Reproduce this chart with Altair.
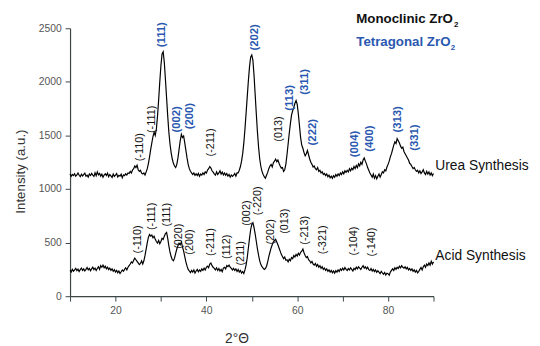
import altair as alt
import pandas as pd

# 2-theta grid: start 10, step 0.25 (321 points, 10..90)
two_theta_start = 10.0
two_theta_step = 0.25

urea = [
    1140, 1118, 1135, 1125, 1142, 1120, 1131, 1150, 1128, 1115, 1138, 1122,
    1135, 1148, 1120, 1130, 1112, 1140, 1126, 1145, 1130, 1118, 1152, 1125,
    1160, 1132, 1145, 1120, 1138, 1110, 1130, 1142, 1125, 1148, 1115, 1135,
    1122, 1108, 1140, 1118, 1130, 1145, 1112, 1128, 1120, 1138, 1105, 1132,
    1125, 1142, 1130, 1150, 1145, 1165, 1150, 1178, 1190, 1215, 1200, 1222,
    1180, 1165, 1175, 1148, 1140, 1150, 1130, 1160, 1190, 1240, 1300, 1370,
    1430, 1490, 1530, 1500, 1560, 1680, 1830, 2000, 2150, 2260, 2280, 2180,
    2020, 1850, 1680, 1530, 1420, 1340, 1280, 1240, 1215, 1200, 1230, 1290,
    1370, 1450, 1510, 1480, 1495, 1430, 1360, 1290, 1230, 1190, 1165, 1150,
    1135, 1150, 1128, 1142, 1125, 1145, 1118, 1140, 1130, 1150, 1135, 1160,
    1148, 1175, 1190, 1210, 1195, 1170, 1158, 1142, 1130, 1160, 1135, 1150,
    1170, 1140, 1158, 1132, 1150, 1128, 1145, 1120, 1135, 1110, 1130, 1118,
    1130, 1145, 1120, 1150, 1150, 1175, 1210, 1260, 1330, 1430, 1560, 1710,
    1860, 2010, 2140, 2230, 2250, 2200, 2060, 1880, 1700, 1530, 1390, 1280,
    1210, 1165, 1135, 1115, 1100, 1128, 1155, 1190, 1215, 1230, 1205, 1245,
    1260, 1280, 1255, 1270, 1240, 1215, 1195, 1200, 1165, 1180, 1230, 1320,
    1420, 1520, 1610, 1690, 1730, 1760, 1800, 1825, 1790, 1700, 1590, 1480,
    1410, 1380, 1340, 1310, 1330, 1360, 1320, 1280, 1250, 1230, 1205, 1215,
    1190, 1180, 1200, 1165, 1175, 1150, 1160, 1135, 1145, 1125, 1140, 1115,
    1130, 1105, 1120, 1100, 1125, 1110, 1135, 1118, 1140, 1125, 1150, 1135,
    1160, 1142, 1170, 1155, 1175, 1160, 1190, 1170, 1195, 1180, 1210, 1190,
    1220, 1200, 1235, 1215, 1250, 1230, 1270, 1290, 1260, 1235, 1200, 1175,
    1150, 1130, 1110, 1140, 1100, 1125, 1095, 1120, 1140, 1110, 1135, 1160,
    1150, 1180, 1170, 1205, 1230, 1260, 1300, 1330, 1370, 1410, 1440, 1425,
    1470, 1450, 1430, 1400, 1380, 1390, 1350, 1330, 1310, 1290, 1270, 1240,
    1230, 1210, 1190, 1200, 1180, 1165, 1175, 1150, 1170, 1145, 1160, 1180,
    1150, 1135, 1165, 1140, 1160, 1130, 1150, 1125, 1145,
]

acid = [
    240, 225, 250, 232, 245, 260, 238, 252, 230, 248, 262, 240,
    255, 235, 250, 268, 245, 260, 238, 255, 270, 248, 262, 240,
    258, 275, 250, 285, 270, 290, 265, 280, 255, 270, 248, 262,
    240, 255, 232, 248, 225, 240, 218, 235, 212, 228, 245, 232,
    250, 265, 245, 270, 285, 300, 320, 310, 335, 355, 340, 325,
    310, 295, 305, 330, 300, 330, 380, 440, 500, 550, 575, 560,
    570, 545, 560, 530, 510, 495, 520, 490, 510, 540, 530, 560,
    585, 595, 540, 470, 410, 370, 340, 330, 355, 400, 440, 470,
    495, 480, 505, 460, 420, 370, 320, 280, 250, 235, 220, 240,
    225, 245, 215, 235, 250, 228, 245, 232, 255, 240, 262, 245,
    270, 280, 265, 300, 310, 285, 270, 260, 245, 265, 240, 258,
    235, 250, 228, 262, 270, 255, 285, 275, 290, 270, 260, 245,
    260, 240, 255, 230, 248, 225, 240, 215, 230, 212, 245, 290,
    360, 450, 540, 620, 670, 685, 640, 580, 510, 440, 380, 330,
    295, 275, 262, 250, 258, 280, 320, 370, 410, 450, 480, 505,
    520, 530, 505, 480, 450, 420, 390, 370, 350, 365, 335, 340,
    320, 345, 330, 360, 350, 380, 365, 390, 375, 400, 385, 410,
    420, 440, 405, 380, 360, 370, 340, 330, 310, 325, 300, 290,
    305, 280, 295, 270, 285, 260, 275, 250, 262, 240, 255, 232,
    245, 225, 240, 218, 235, 215, 238, 225, 245, 230, 255, 240,
    262, 245, 268, 250, 240, 258, 245, 265, 250, 235, 260, 248,
    270, 255, 275, 262, 250, 270, 285, 262, 275, 255, 270, 248,
    240, 258, 235, 250, 230, 245, 222, 238, 225, 210, 232, 218,
    205, 222, 198, 215, 210, 195, 225, 240, 255, 240, 265, 250,
    270, 258, 280, 265, 285, 270, 262, 275, 255, 268, 245, 258,
    240, 255, 232, 245, 225, 240, 218, 232, 250, 268, 245, 275,
    290, 270, 300, 285, 310, 290, 325, 300, 320,
]

# peak labels (M = monoclinic, black; T = tetragonal, blue)
urea_labels = ["(-110)", "(-111)", "(111)", "(002)", "(200)", "(-211)", "(202)", "(013)",
               "(113)", "(311)", "(222)", "(004)", "(400)", "(313)", "(331)"]
urea_label_x = [25.4, 28.0, 30.2, 33.5, 36.5, 41.1, 50.7, 55.9,
                58.5, 61.8, 63.5, 72.8, 76.1, 82.2, 85.9]
urea_label_y = [1390, 1650, 2440, 1650, 1680, 1435, 2415, 1560,
                1850, 2000, 1530, 1420, 1470, 1650, 1480]
urea_label_phase = ["M", "M", "T", "T", "T", "M", "T", "M",
                    "T", "T", "T", "T", "T", "T", "T"]

acid_labels = ["(-110)", "(-111)", "(111)", "(020)", "(200)", "(-211)", "(112)", "(211)",
               "(002)", "(-220)", "(202)", "(013)", "(-213)", "(-321)", "(-104)", "(-140)"]
acid_label_x = [25.0, 28.0, 31.3, 33.9, 36.5, 41.1, 44.6, 47.7,
                49.0, 51.4, 54.2, 57.4, 61.7, 65.6, 72.6, 76.5]
acid_label_y = [530, 745, 760, 560, 505, 505, 460, 400,
                775, 890, 600, 700, 615, 525, 515, 505]

series_names = ["Urea Synthesis", "Acid Synthesis"]
series_label_x = [90.4, 90.4]
series_label_y = [1210, 377]

legend_texts = ["Monoclinic ZrO", "Tetragonal ZrO"]
legend_sub = ["2", "2"]
legend_phase = ["M", "T"]
legend_x = [73.0, 73.0]
legend_sub_x = [94.5, 93.8]
legend_y = [2585, 2372]

x_ticks = [10, 20, 30, 40, 50, 60, 70, 80, 90]
y_ticks = [0, 250, 500, 750, 1000, 1250, 1500, 1750, 2000, 2250, 2500]

BLUE = "#2a58b0"
FONT = "Liberation Sans"

x_grid = [two_theta_start + two_theta_step * i for i in range(len(urea))]
lines_df = pd.DataFrame({
    "x": x_grid + x_grid,
    "y": urea + acid,
    "series": [series_names[0]] * len(urea) + [series_names[1]] * len(acid),
})

peaks_df = pd.DataFrame({
    "label": urea_labels + acid_labels,
    "x": urea_label_x + acid_label_x,
    "y": urea_label_y + acid_label_y,
    "phase": urea_label_phase + ["M"] * len(acid_labels),
})
series_df = pd.DataFrame({"name": series_names, "x": series_label_x, "y": series_label_y})
legend_df = pd.DataFrame({"text": legend_texts, "sub": legend_sub, "phase": legend_phase,
                          "x": legend_x, "xs": legend_sub_x, "y": legend_y})

xs = alt.Scale(domain=[10, 90], nice=False, zero=False)
ys = alt.Scale(domain=[0, 2500], nice=False)
color_scale = alt.Scale(domain=["M", "T"], range=["#111111", BLUE])

lines = alt.Chart(lines_df).mark_line(color="black", strokeWidth=1.2).encode(
    x=alt.X("x:Q", scale=xs, axis=alt.Axis(
        values=x_ticks, title="2°Θ", labelExpr="datum.value % 20 == 0 ? datum.label : ''",
        titleX=169, titleY=43, titleBaseline="middle", titleAlign="center",
        titleFontSize=14, titleFontWeight="normal", labelPadding=5)),
    y=alt.Y("y:Q", scale=ys, axis=alt.Axis(
        values=y_ticks, format="d", title="Intensity (a.u.)",
        labelExpr="datum.value % 500 == 0 ? datum.label : ''",
        titleX=-50, titleY=145, titleAngle=270, titleBaseline="middle", titleAlign="center",
        titleFontSize=13.5, titleFontWeight="normal")),
    detail="series:N",
)

mono_peaks = alt.Chart(peaks_df).transform_filter("datum.phase == 'M'").mark_text(
    angle=270, fontSize=11, font=FONT, color="#111111", align="center", baseline="middle"
).encode(x=alt.X("x:Q", scale=xs), y=alt.Y("y:Q", scale=ys), text="label:N")

tet_peaks = alt.Chart(peaks_df).transform_filter("datum.phase == 'T'").mark_text(
    angle=270, fontSize=11.5, font=FONT, fontWeight="bold", color=BLUE,
    align="center", baseline="middle"
).encode(x=alt.X("x:Q", scale=xs), y=alt.Y("y:Q", scale=ys), text="label:N")

series_text = alt.Chart(series_df).mark_text(
    fontSize=14, font=FONT, color="#111111", align="left", baseline="middle"
).encode(x=alt.X("x:Q", scale=xs), y=alt.Y("y:Q", scale=ys), text="name:N")

legend_text = alt.Chart(legend_df).mark_text(
    fontSize=13.5, font=FONT, fontWeight="bold", align="left", baseline="middle"
).encode(
    x=alt.X("x:Q", scale=xs), y=alt.Y("y:Q", scale=ys), text="text:N",
    color=alt.Color("phase:N", scale=color_scale, legend=None),
)

legend_subscript = alt.Chart(legend_df).mark_text(
    fontSize=8, font=FONT, fontWeight="bold", align="left", baseline="middle", dy=6
).encode(
    x=alt.X("xs:Q", scale=xs), y=alt.Y("y:Q", scale=ys), text="sub:N",
    color=alt.Color("phase:N", scale=color_scale, legend=None),
)

chart = alt.layer(lines, mono_peaks, tet_peaks, series_text, legend_text,
                  legend_subscript).properties(
    width=369, height=272,
    autosize=alt.AutoSizeParams(type="none"),
    padding={"left": 63, "top": 18, "right": 100, "bottom": 48},
).configure_view(stroke=None).configure_axis(
    domainColor="#3c4646", tickColor="#3c4646", labelColor="#555555",
    titleColor="#333333", labelFont=FONT, titleFont=FONT, labelFontSize=10.5,
    tickSize=5, labelPadding=4, grid=False, domainWidth=1.2, tickWidth=1,
)

chart.save("out.html", embed_options={"renderer": "svg", "actions": False})
